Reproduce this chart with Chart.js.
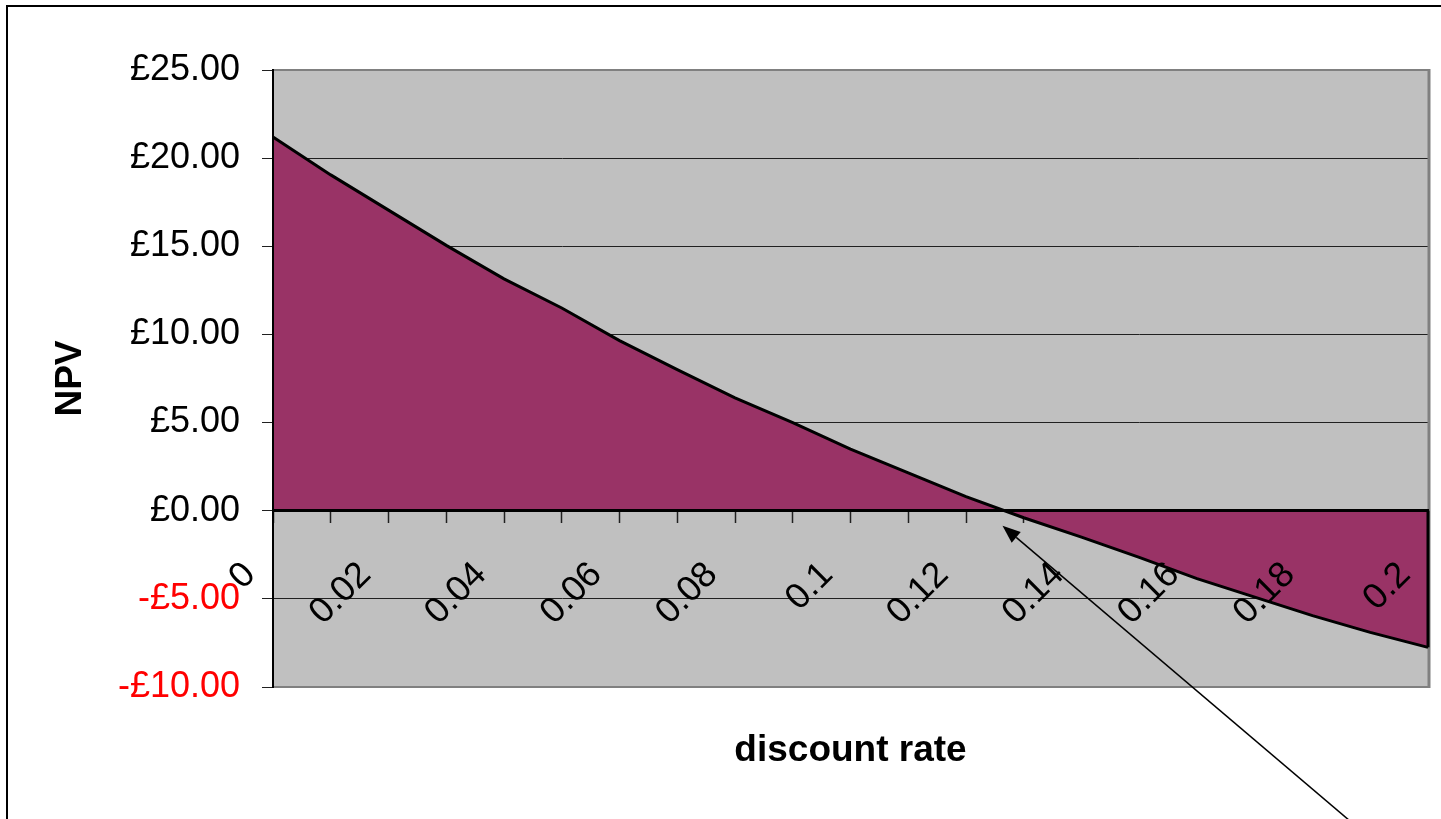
<!DOCTYPE html>
<html lang="en">
<head>
<meta charset="utf-8">
<title>NPV against discount rate</title>
<script src="https://cdn.jsdelivr.net/npm/chart.js@4.4.1/dist/chart.umd.min.js"></script>
<style>
  html, body { margin: 0; padding: 0; background: #fff; overflow: hidden; }
  #wrap { position: relative; width: 1441px; height: 819px; }
</style>
</head>
<body>
<div id="wrap"><canvas id="npvChart"></canvas></div>
<script>
// Discount rates tried, 0% to 20% in 1% steps
const rates = [0, 0.01, 0.02, 0.03, 0.04, 0.05, 0.06, 0.07, 0.08, 0.09, 0.1,
               0.11, 0.12, 0.13, 0.14, 0.15, 0.16, 0.17, 0.18, 0.19, 0.2];
// Net present value (£) at each discount rate
const npv = [21.2, 19.05, 17.05, 15.05, 13.15, 11.5, 9.65, 8.0, 6.4, 5.0, 3.5,
             2.15, 0.8, -0.4, -1.5, -2.65, -3.85, -4.9, -5.95, -6.9, -7.75];
// Value axis range and step (£)
const yMin = -10;
const yMax = 25;
const yStep = 5;
// Text
const xTitle = 'discount rate';
const yTitle = 'NPV';

const rateLabels = rates.map(r => String(r));

const FONT = "'Liberation Sans', Arial, Helvetica, sans-serif";
Chart.defaults.font.family = FONT;

function poundLabel(v) {
  return (v < 0 ? '-£' : '£') + Math.abs(v).toFixed(2);
}

// Plot background, outer frame, closing edge of the area and the IRR pointer
const decor = {
  id: 'decor',
  beforeDraw(chart) {
    const { ctx, chartArea: a, width, height } = chart;
    ctx.save();
    ctx.fillStyle = '#ffffff';
    ctx.fillRect(0, 0, width, height);
    ctx.strokeStyle = '#000000';
    ctx.lineWidth = 2;
    ctx.strokeRect(7, 6, width + 20, height + 20);
    ctx.fillStyle = '#C0C0C0';
    ctx.fillRect(a.left, a.top, a.right - a.left, a.bottom - a.top);
    ctx.restore();
  },
  beforeDatasetsDraw(chart) {
    const { ctx, chartArea: a } = chart;
    ctx.save();
    ctx.strokeStyle = '#808080';
    ctx.lineWidth = 2;
    ctx.beginPath();
    ctx.moveTo(a.left, a.top);
    ctx.lineTo(a.right + 2, a.top);
    ctx.moveTo(a.left, a.bottom);
    ctx.lineTo(a.right + 2, a.bottom);
    ctx.stroke();
    ctx.lineWidth = 3;
    ctx.beginPath();
    ctx.moveTo(a.right + 1, a.top - 1);
    ctx.lineTo(a.right + 1, a.bottom + 1);
    ctx.stroke();
    ctx.restore();
  },
  afterDatasetsDraw(chart) {
    const { ctx } = chart;
    const pts = chart.getDatasetMeta(0).data;
    const y0 = chart.scales.y.getPixelForValue(0);
    const last = pts[pts.length - 1];
    ctx.save();
    ctx.strokeStyle = '#000000';
    ctx.lineWidth = 3;
    ctx.beginPath();
    ctx.moveTo(last.x, y0);
    ctx.lineTo(last.x, last.y);
    ctx.stroke();
    ctx.restore();
  },
  afterDraw(chart) {
    const { ctx } = chart;
    const pts = chart.getDatasetMeta(0).data;
    const y0 = chart.scales.y.getPixelForValue(0);
    // where the NPV curve crosses zero
    let cx = null;
    for (let i = 0; i < npv.length - 1; i++) {
      if (npv[i] >= 0 && npv[i + 1] < 0) {
        const t = npv[i] / (npv[i] - npv[i + 1]);
        cx = pts[i].x + t * (pts[i + 1].x - pts[i].x);
        break;
      }
    }
    if (cx === null) return;
    const tipX = cx - 2, tipY = y0 + 15;
    const tailX = tipX + 346, tailY = tipY + 294;
    const ang = Math.atan2(tipY - tailY, tipX - tailX);
    const headLen = 18, headHalf = 7;
    const bx = tipX - headLen * Math.cos(ang), by = tipY - headLen * Math.sin(ang);
    ctx.save();
    ctx.strokeStyle = '#000000';
    ctx.fillStyle = '#000000';
    ctx.lineWidth = 1.5;
    ctx.beginPath();
    ctx.moveTo(tailX, tailY);
    ctx.lineTo(bx, by);
    ctx.stroke();
    ctx.beginPath();
    ctx.moveTo(tipX, tipY);
    ctx.lineTo(bx + headHalf * Math.sin(ang), by - headHalf * Math.cos(ang));
    ctx.lineTo(bx - headHalf * Math.sin(ang), by + headHalf * Math.cos(ang));
    ctx.closePath();
    ctx.fill();
    ctx.restore();
  }
};

new Chart(document.getElementById('npvChart'), {
  type: 'line',
  data: {
    labels: rateLabels,
    datasets: [{
      label: 'NPV',
      data: npv,
      xAxisID: 'x',
      yAxisID: 'y',
      fill: 'origin',
      backgroundColor: '#993366',
      borderColor: '#000000',
      borderWidth: 3,
      pointRadius: 0,
      pointHoverRadius: 0,
      tension: 0
    }]
  },
  options: {
    responsive: true,
    maintainAspectRatio: false,
    animation: false,
    devicePixelRatio: 1,
    layout: { padding: { top: 70, right: 13, bottom: 0, left: 0 } },
    plugins: {
      legend: { display: false },
      tooltip: { enabled: false },
      title: { display: false }
    },
    scales: {
      x: {
        type: 'category',
        position: { y: 0 },
        offset: false,
        grid: {
          display: true,
          drawOnChartArea: false,
          drawTicks: true,
          tickLength: 11,
          tickColor: '#202020',
          tickWidth: 1.5
        },
        border: { display: true, color: '#000000', width: 3, z: 1 },
        ticks: {
          z: 1,
          autoSkip: false,
          minRotation: 45,
          maxRotation: 45,
          padding: 32,
          labelOffset: -23,
          color: '#000000',
          font: { size: 36 },
          callback: (v, i) => (i % 2 === 0 ? rateLabels[i] : '')
        },
        afterFit(scale) {
          scale.paddingLeft = 0;
          scale.paddingRight = 0;
        }
      },
      xTitle: {
        type: 'category',
        axis: 'x',
        position: 'bottom',
        labels: rateLabels,
        grid: { display: false },
        border: { display: false },
        ticks: { display: false },
        title: {
          display: true,
          text: xTitle,
          color: '#000000',
          font: { size: 37, weight: 'bold' },
          padding: { top: 0, bottom: 46 }
        },
        afterFit(scale) {
          scale.height = 132;
          scale.paddingLeft = 0;
          scale.paddingRight = 0;
        }
      },
      y: {
        type: 'linear',
        position: 'left',
        min: yMin,
        max: yMax,
        grid: {
          color: ctx => (ctx.tick && (ctx.tick.value === yMax || ctx.tick.value === yMin)) ? '#808080' : '#202020',
          lineWidth: 1,
          tickLength: 11,
          tickColor: '#202020'
        },
        border: { display: true, color: '#000000', width: 2, z: 1 },
        ticks: {
          stepSize: yStep,
          padding: 22,
          font: { size: 36 },
          color: ctx => (ctx.tick && ctx.tick.value < 0) ? '#FF0000' : '#000000',
          callback: v => poundLabel(v)
        },
        title: {
          display: true,
          text: yTitle,
          color: '#000000',
          font: { size: 37, weight: 'bold' },
          padding: { top: 49, bottom: 0 }
        },
        afterFit(scale) {
          scale.width = 273;
        }
      }
    }
  },
  plugins: [decor]
});
</script>
</body>
</html>
